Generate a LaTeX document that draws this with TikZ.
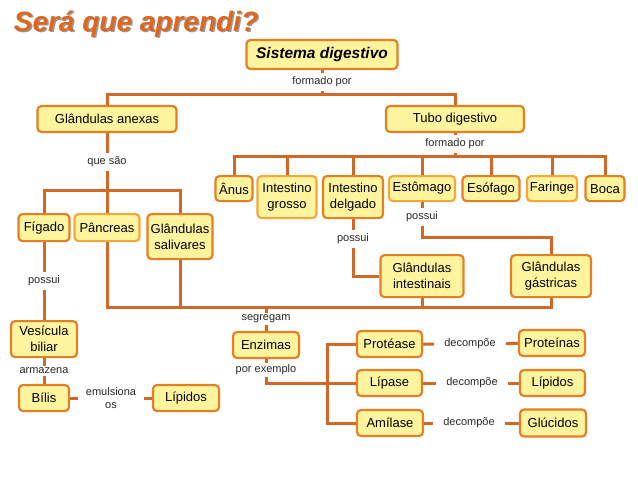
\documentclass[tikz,border=0pt]{standalone}
\usepackage{fontspec}
\setmainfont{Liberation Sans}

\definecolor{fundo}{RGB}{255,244,158}
\definecolor{borda}{RGB}{226,128,38}
\definecolor{bordaclara}{RGB}{244,168,58}
\definecolor{ligacaocor}{RGB}{210,104,40}
\definecolor{titulocor}{RGB}{222,102,30}
\definecolor{texto}{RGB}{40,40,40}

\begin{document}
\begin{tikzpicture}[x=1pt,y=-1pt,
  caixa/.style={draw=borda,fill=fundo,rounded corners=4pt,line width=2.2pt,inner sep=0pt,
    align=center,font=\fontsize{13}{16}\selectfont},
  caixaclara/.style={caixa,draw=bordaclara},
  rotulo/.style={fill=white,text=texto,inner xsep=10pt,inner ysep=4pt,align=center,
    font=\fontsize{11}{12.5}\selectfont},
  ligacao/.style={draw=ligacaocor,line width=3pt}]
  \useasboundingbox (0,0) rectangle (638,479);
  % titulo
  \node[text=black!40,font=\fontsize{28}{30}\selectfont\bfseries\itshape] (titulosombra) at (137.5,25.5) {Será que aprendi?};
  \node[text=titulocor,font=\fontsize{28}{30}\selectfont\bfseries\itshape] (titulo) at (136,24) {Será que aprendi?};
  % nivel superior
  \node[caixa,minimum width=151pt,minimum height=29pt,font=\fontsize{15.5}{18}\selectfont\bfseries\itshape] (sistema) at (322,54.5) {Sistema digestivo};
  \node[rotulo] (lf1) at (322,82) {formado por};
  \coordinate (barra1) at (322,94);
  \node[caixa,minimum width=139pt,minimum height=26pt] (anexas) at (107,119) {Glândulas anexas};
  \node[caixa,minimum width=138pt,minimum height=26pt] (tubo) at (455,119) {Tubo digestivo};
  % tubo digestivo
  \node[rotulo] (lf2) at (455,144) {formado por};
  \coordinate (barra2) at (455,156);
  \node[caixa,anchor=north,minimum width=37pt,minimum height=25pt] (anus) at (234,175) {Ânus};
  \node[caixaclara,anchor=north,minimum width=59pt,minimum height=42pt] (grosso) at (287,175) {Intestino\\grosso};
  \node[caixa,anchor=north,minimum width=60pt,minimum height=42pt] (delgado) at (353,175) {Intestino\\delgado};
  \node[caixaclara,anchor=north,minimum width=66pt,minimum height=25pt] (estomago) at (422,175) {Estômago};
  \node[caixa,anchor=north,minimum width=57pt,minimum height=25pt] (esofago) at (491,175) {Esófago};
  \node[caixaclara,anchor=north,minimum width=50pt,minimum height=25pt] (faringe) at (552,175) {Faringe};
  \node[caixa,anchor=north,minimum width=39pt,minimum height=25pt] (boca) at (605,175) {Boca};
  \node[rotulo] (lp2) at (353,239) {possui};
  \node[caixa,anchor=north,minimum width=83pt,minimum height=42pt] (intest) at (422,254) {Glândulas\\intestinais};
  \node[rotulo] (lp3) at (422,217) {possui};
  \coordinate (canto) at (551,237);
  \node[caixa,anchor=north,minimum width=80pt,minimum height=42pt] (gastricas) at (551,254) {Glândulas\\gástricas};
  % glandulas anexas
  \node[rotulo] (lqs) at (107,162) {que são};
  \coordinate (barra3) at (107,190);
  \node[caixa,anchor=north,minimum width=51pt,minimum height=27pt] (figado) at (44,213) {Fígado};
  \node[caixaclara,anchor=north,minimum width=65pt,minimum height=27pt] (pancreas) at (107,213) {Pâncreas};
  \node[caixa,anchor=north,minimum width=65pt,minimum height=45pt] (saliv) at (180,213) {Glândulas\\salivares};
  \node[rotulo] (lp1) at (44,281) {possui};
  \node[caixa,anchor=north,minimum width=66pt,minimum height=36pt] (vesicula) at (44,320) {Vesícula\\biliar};
  \node[rotulo,inner ysep=2pt] (lar) at (44,371) {armazena};
  \node[caixa,minimum width=50pt,minimum height=26pt] (bilis) at (44,398) {Bílis};
  \node[rotulo,inner xsep=8pt] (lem) at (111,398) {emulsiona\\os};
  \node[caixa,minimum width=66pt,minimum height=26pt] (lipidos1) at (186,398) {Lípidos};
  % enzimas
  \coordinate (barra4) at (266,307);
  \node[rotulo,inner ysep=2pt] (lseg) at (266,319) {segregam};
  \node[caixa,minimum width=66pt,minimum height=26pt] (enzimas) at (266,345) {Enzimas};
  \node[rotulo,inner xsep=2pt,inner ysep=2pt] (lpe) at (266,370) {por exemplo};
  \coordinate (juncao) at (327,383);
  \node[caixa,minimum width=65pt,minimum height=26pt] (protease) at (389.5,344) {Protéase};
  \node[caixa,minimum width=65pt,minimum height=26pt] (lipase) at (389.5,383) {Lípase};
  \node[caixa,minimum width=66pt,minimum height=26pt] (amilase) at (390,423) {Amílase};
  \node[rotulo] (ld1) at (470,344) {decompõe};
  \node[rotulo] (ld2) at (472,383) {decompõe};
  \node[rotulo] (ld3) at (469,423) {decompõe};
  \node[caixa,minimum width=66pt,minimum height=26pt] (proteinas) at (552,343) {Proteínas};
  \node[caixa,minimum width=65pt,minimum height=26pt] (lipidos2) at (552.5,383) {Lípidos};
  \node[caixa,minimum width=66pt,minimum height=27pt] (glucidos) at (553,423) {Glúcidos};
  % ligacoes
  \draw[ligacao] (sistema) -- (lf1) -- (barra1);
  \draw[ligacao] (anexas) |- (barra1) -| (tubo);
  \draw[ligacao] (tubo) -- (lf2) -- (barra2);
  \draw[ligacao] (anus) |- (barra2) -| (boca);
  \foreach \n in {grosso,delgado,estomago,esofago,faringe}
    \draw[ligacao] (\n) -- (\n |- barra2);
  \draw[ligacao] (delgado) -- (lp2) |- (intest);
  \draw[ligacao] (estomago) -- (lp3) |- (canto) -- (gastricas);
  \draw[ligacao] (anexas) -- (lqs) -- (barra3);
  \draw[ligacao] (figado) |- (barra3) -| (saliv);
  \draw[ligacao] (pancreas) -- (barra3);
  \draw[ligacao] (figado) -- (lp1) -- (vesicula);
  \draw[ligacao] (vesicula) -- (lar) -- (bilis);
  \draw[ligacao] (bilis) -- (lem) -- (lipidos1);
  \draw[ligacao] (pancreas) |- (barra4) -| (gastricas);
  \draw[ligacao] (saliv) -- (saliv |- barra4);
  \draw[ligacao] (intest) -- (intest |- barra4);
  \draw[ligacao] (barra4) -- (lseg) -- (enzimas) -- (lpe);
  \draw[ligacao] (lpe) |- (lipase);
  \draw[ligacao] (protease) -| (juncao) |- (amilase);
  \draw[ligacao] (protease) -- (ld1) -- (proteinas);
  \draw[ligacao] (lipase) -- (ld2) -- (lipidos2);
  \draw[ligacao] (amilase) -- (ld3) -- (glucidos);
\end{tikzpicture}
\end{document}
